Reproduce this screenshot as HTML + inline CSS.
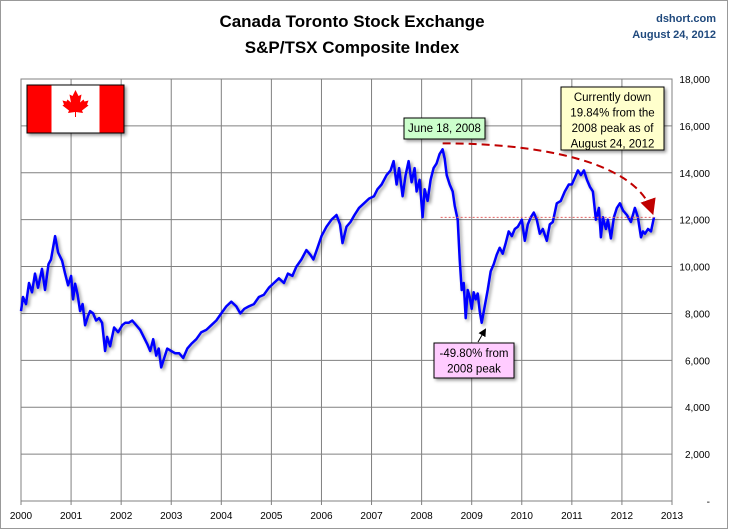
<!DOCTYPE html>
<html><head><meta charset="utf-8"><style>
body{margin:0;background:#fff;}
svg{display:block;font-family:"Liberation Sans",Arial,sans-serif;}
</style></head><body>
<svg id="chart" width="729" height="530" viewBox="0 0 729 530" xmlns="http://www.w3.org/2000/svg">
<defs>
<filter id="sh" x="-10%" y="-10%" width="130%" height="140%"><feDropShadow dx="2" dy="2" stdDeviation="1.5" flood-color="#000" flood-opacity="0.4"/></filter>
<marker id="ar" markerWidth="8" markerHeight="8" refX="6" refY="4" orient="auto"><path d="M0,0 L8,4 L0,8 z" fill="#c00000"/></marker>
<marker id="ak" markerWidth="8" markerHeight="8" refX="6" refY="4" orient="auto"><path d="M0,0 L8,4 L0,8 z" fill="#000"/></marker>
</defs>
<rect x="0.5" y="0.5" width="727" height="528" fill="#fff" stroke="#999"/>
<text x="352" y="27" font-size="17" font-weight="bold" text-anchor="middle" fill="#000">Canada  Toronto  Stock Exchange</text>
<text x="352" y="53" font-size="17" font-weight="bold" text-anchor="middle" fill="#000">S&amp;P/TSX  Composite  Index</text>
<text x="716" y="22" font-size="11" font-weight="bold" text-anchor="end" fill="#1f497d">dshort.com</text>
<text x="716" y="38" font-size="11" font-weight="bold" text-anchor="end" fill="#1f497d">August 24, 2012</text>
<g id="grid"></g>
<g id="axes"></g>
<g filter="url(#sh)">
<rect x="27" y="85" width="97" height="48" fill="#fff" stroke="#000" stroke-width="1"/>
<rect x="27.5" y="85.5" width="24" height="47" fill="#ff0000"/>
<rect x="99.5" y="85.5" width="24" height="47" fill="#ff0000"/>
<path d="M75.5,90 l-3,6 -3,-1.5 1.5,8 -3.5,-3 -1,2 -4,-1 1.5,4 -1.5,1 6.5,5 -1,2.5 7,-1 0,5 1,0 0,-5 7,1 -1,-2.5 6.5,-5 -1.5,-1 1.5,-4 -4,1 -1,-2 -3.5,3 1.5,-8 -3,1.5z" fill="#ff0000"/>
</g>
<g id="series"></g>
<g id="annot"></g>
</svg>
<script>
const yTicks=[0,2000,4000,6000,8000,10000,12000,14000,16000,18000];
const yTickLabels=["-","2,000","4,000","6,000","8,000","10,000","12,000","14,000","16,000","18,000"];
const xTicks=[2000,2001,2002,2003,2004,2005,2006,2007,2008,2009,2010,2011,2012,2013];
const dates=[
2000.0,2000.04,2000.1,2000.16,2000.22,2000.28,2000.34,2000.42,2000.48,2000.55,2000.6,2000.68,2000.74,2000.82,2000.88,2000.94,
2001.0,2001.04,2001.08,2001.13,2001.18,2001.23,2001.28,2001.34,2001.38,2001.44,2001.5,2001.56,2001.62,2001.68,2001.72,2001.78,2001.86,2001.94,
2002.02,2002.08,2002.15,2002.22,2002.3,2002.38,2002.45,2002.52,2002.58,2002.64,2002.7,2002.75,2002.8,2002.86,2002.92,
2003.0,2003.08,2003.16,2003.24,2003.32,2003.4,2003.5,2003.6,2003.7,2003.8,2003.9,
2004.0,2004.1,2004.2,2004.3,2004.38,2004.46,2004.55,2004.65,2004.75,2004.85,2004.95,
2005.05,2005.15,2005.25,2005.33,2005.42,2005.5,2005.6,2005.7,2005.78,2005.84,2005.92,
2006.0,2006.1,2006.2,2006.3,2006.37,2006.42,2006.5,2006.58,2006.66,2006.75,2006.85,2006.95,
2007.05,2007.12,2007.2,2007.3,2007.38,2007.44,2007.5,2007.55,2007.62,2007.68,2007.74,2007.8,2007.86,2007.9,2007.96,
2008.02,2008.06,2008.12,2008.18,2008.24,2008.3,2008.36,2008.42,2008.46,2008.5,2008.56,2008.62,2008.66,2008.72,2008.76,2008.8,2008.84,2008.88,2008.92,2008.96,
2009.0,2009.04,2009.08,2009.12,2009.16,2009.2,2009.26,2009.32,2009.38,2009.44,2009.5,2009.56,2009.62,2009.68,2009.74,2009.8,2009.86,2009.92,
2010.0,2010.06,2010.12,2010.18,2010.24,2010.3,2010.36,2010.42,2010.5,2010.56,2010.62,2010.7,2010.78,2010.86,2010.94,
2011.0,2011.06,2011.12,2011.18,2011.24,2011.3,2011.36,2011.42,2011.48,2011.54,2011.58,2011.62,2011.68,2011.72,2011.78,2011.84,2011.9,2011.96,
2012.02,2012.1,2012.18,2012.26,2012.32,2012.38,2012.42,2012.46,2012.52,2012.58,2012.64];
const values=[
8100,8700,8400,9300,8900,9700,9100,9900,9000,10100,10300,11300,10600,10250,9700,9200,
9600,8600,9270,8800,8100,8400,7500,7900,8100,8000,7700,7800,7600,6400,7000,6600,7400,7200,
7500,7600,7600,7700,7500,7300,7000,6700,6400,6900,6200,6500,5700,6100,6500,
6400,6300,6300,6100,6500,6700,6900,7200,7300,7500,7700,
8000,8300,8500,8300,8000,8200,8300,8400,8700,8800,9100,
9300,9500,9300,9700,9600,10000,10300,10700,10500,10300,10800,
11300,11700,12000,12200,11800,11000,11700,11900,12200,12500,12700,12900,
13000,13300,13500,13900,14100,14500,13500,14200,13000,13900,14500,13600,14200,13200,13700,
12100,13300,12800,13700,14200,14400,14800,15000,14600,13900,13500,13200,12600,12000,10300,9000,9300,7800,9000,8700,
8200,8900,8600,8850,8100,7600,8300,9000,9800,10100,10500,10800,10550,11000,11500,11300,11600,11700,
12000,11100,11800,12100,12300,12000,11400,11600,11100,11800,11900,12700,12800,13200,13500,
13500,13800,14100,13900,14100,13700,13400,13200,12000,12500,11250,12100,11600,12000,11200,12100,12500,12700,
12400,12200,11900,12500,12100,11250,11500,11400,11600,11500,12100];

const L=21,R=672,T=79,B=501;
const xs=d=>L+(d-2000)*(R-L)/13;
const ys=v=>B-v*(B-T)/18000;
const NS="http://www.w3.org/2000/svg";
function mk(tag,attrs,parent){const e=document.createElementNS(NS,tag);for(const k in attrs)e.setAttribute(k,attrs[k]);parent.appendChild(e);return e;}
const grid=document.getElementById('grid'),axes=document.getElementById('axes'),ser=document.getElementById('series'),an=document.getElementById('annot');
mk('rect',{x:L,y:T,width:R-L,height:B-T,fill:'#fff',stroke:'#808080','stroke-width':1},grid);
yTicks.forEach((v,i)=>{
  const ln=mk('line',{x1:L,x2:R,y1:ys(v),y2:ys(v),stroke:'#808080','stroke-width':1},grid);
  
  
  const t=mk('text',{x:710,y:ys(v)+4,'font-size':10,'text-anchor':'end',fill:'#000'},axes);
  t.textContent=yTickLabels[i];
  
  
});
xTicks.forEach(d=>{
  const ln=mk('line',{x1:xs(d),x2:xs(d),y1:T,y2:B+4,stroke:'#808080','stroke-width':1},grid);
  
  
  const t=mk('text',{x:xs(d),y:519,'font-size':10,'text-anchor':'middle',fill:'#000'},axes);
  t.textContent=d;
  
  
});
const n=Math.min(dates.length,values.length);
const pts=dates.slice(0,n).map((d,i)=>xs(d).toFixed(1)+','+ys(values[i]).toFixed(1)).join(' ');
const pl=mk('polyline',{points:pts,fill:'none',stroke:'#0000ff','stroke-width':2.5,'stroke-linejoin':'round',filter:'url(#sh)'},ser);


let peakI=0;for(let i=0;i<n;i++){if(dates[i]>2008&&dates[i]<2009&&values[i]>values[peakI])peakI=i;}
const px=xs(dates[peakI]),py=ys(values[peakI]);
const ex=xs(dates[n-1]),ey=ys(values[n-1]);
const hl=mk('line',{x1:px-2,x2:ex,y1:ey,y2:ey,stroke:'#e06060','stroke-width':1,'stroke-dasharray':'2,2'},an);


const cv=mk('path',{d:`M${px},${py-6} C${px+90},${py-6} ${ex-20},${py+10} ${ex-2},${ey-6}`,fill:'none',stroke:'#c00000','stroke-width':2,'stroke-dasharray':'8,5','marker-end':'url(#ar)'},an);


const ka=mk('line',{x1:478,y1:342,x2:485,y2:330,stroke:'#000','stroke-width':1,'marker-end':'url(#ak)'},an);


function box(x,y,w,h,fill,lines,name){
  const g=mk('g',{},an);
  
  
  mk('rect',{x,y,width:w,height:h,fill,stroke:'#000','stroke-width':1,filter:'url(#sh)'},g);
  lines.forEach((s,i)=>{const t=mk('text',{x:x+w/2,y:y+14+i*15.5,'font-size':11.5,'text-anchor':'middle',fill:'#000'},g);t.textContent=s;});
}
box(404,118,81,21,'#ccffcc',['June 18, 2008'],'peak-date-label');
box(561,87,103,63,'#ffffcc',['Currently down','19.84% from the','2008 peak as of','August 24, 2012'],'current-decline-label');
box(434,343,80,35,'#ffccff',['-49.80% from','2008 peak'],'trough-decline-label');
</script>
</body></html>
